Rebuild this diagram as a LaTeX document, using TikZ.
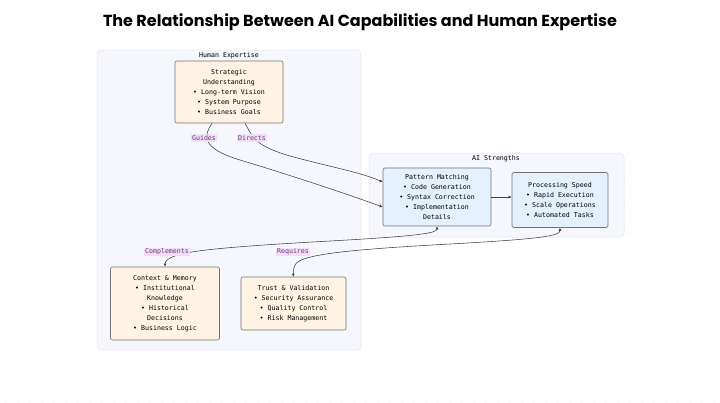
\documentclass[tikz,border=0pt]{standalone}
\usepackage{fontspec}
\setmainfont{DejaVu Sans Mono}
\newfontfamily\ttlfont{Poppins}
\usetikzlibrary{arrows.meta}
\definecolor{org}{HTML}{FFF3E4}
\definecolor{blu}{HTML}{E4F1FD}
\definecolor{clu}{HTML}{F6F7FC}
\definecolor{clb}{HTML}{E3E6F0}
\definecolor{lbg}{HTML}{F2DDF8}
\definecolor{ltx}{HTML}{6B3A7A}
\tikzset{
 box/.style={draw=black!55,rounded corners=2pt,line width=0.6pt,align=center,font=\fontsize{6.6}{10}\selectfont,inner sep=0pt},
 ob/.style={box,fill=org},
 bb/.style={box,fill=blu},
 clus/.style={draw=clb,fill=clu,rounded corners=4pt,line width=0.5pt},
 ct/.style={font=\fontsize{6.6}{8}\selectfont},
 lab/.style={fill=lbg,text=ltx,font=\fontsize{6.6}{8}\selectfont,inner sep=1pt},
 con/.style={draw=black!75,line width=0.55pt},
 tip/.style={-{Latex[length=3pt,width=3pt]}},
 tip2/.style={{Latex[length=3pt,width=3pt]}-{Latex[length=3pt,width=3pt]}},
}
\begin{document}
\begin{tikzpicture}[x=1pt,y=-1pt]
\useasboundingbox (0,0) rectangle (720,402);
\fill[white] (0,0) rectangle (720,402);
\foreach \i in {0,...,59}{\foreach \j in {0,...,33}{\fill[black!25] (\i*12+6,\j*12+6) circle (0.45);}}
\node[font=\ttlfont\bfseries\fontsize{16}{18}\selectfont] (title) at (360,22) {The Relationship Between AI Capabilities and Human Expertise};
\draw[clus] (97,50) rectangle (361,350);
\node[ct] (hl) at (229,56) {Human Expertise};
\draw[clus] (369,153) rectangle (624,237);
\node[ct] (al) at (496,159) {AI Strengths};
\node[ob,minimum width=108pt,minimum height=62pt] (s) at (229,92) {Strategic\\Understanding\\• Long-term Vision\\• System Purpose\\• Business Goals};
\node[bb,minimum width=108pt,minimum height=58pt] (p) at (437,197) {Pattern Matching\\• Code Generation\\• Syntax Correction\\• Implementation\\Details};
\node[bb,minimum width=96pt,minimum height=55pt] (q) at (560,200) {Processing Speed\\• Rapid Execution\\• Scale Operations\\• Automated Tasks};
\node[ob,minimum width=109pt,minimum height=73pt] (c) at (165,303.5) {Context \& Memory\\• Institutional\\Knowledge\\• Historical\\Decisions\\• Business Logic};
\node[ob,minimum width=105pt,minimum height=53pt] (t) at (293.5,303.5) {Trust \& Validation\\• Security Assurance\\• Quality Control\\• Risk Management};
\draw[con,tip] ([xshift=-17pt]s.south) .. controls (204,135) and (200,148) .. (240,160) .. controls (290,175) and (350,195) .. ([yshift=-10pt]p.west);
\draw[con,tip] ([xshift=16pt]s.south) .. controls (252,135) and (252,145) .. (290,156) .. controls (330,167) and (360,172) .. ([yshift=15pt]p.west);
\draw[con,tip] (p.east) -- ([yshift=3pt]q.west);
\draw[con,tip2] (p.south) .. controls (437,233) and (420,236) .. (330,241) .. controls (240,246) and (190,250) .. (175,256) .. controls (166,259) and (165,262) .. (c.north);
\draw[con,tip2] (q.south) .. controls (560,236) and (540,239) .. (450,244) .. controls (340,250) and (300,255) .. (295,265) .. controls (293,270) and (293,272) .. (t.north);
\node[lab] (g) at (204,138) {Guides};
\node[lab] (d) at (252,138) {Directs};
\node[lab] (cm) at (167,252) {Complements};
\node[lab] (r) at (293,252) {Requires};
\end{tikzpicture}
\end{document}
